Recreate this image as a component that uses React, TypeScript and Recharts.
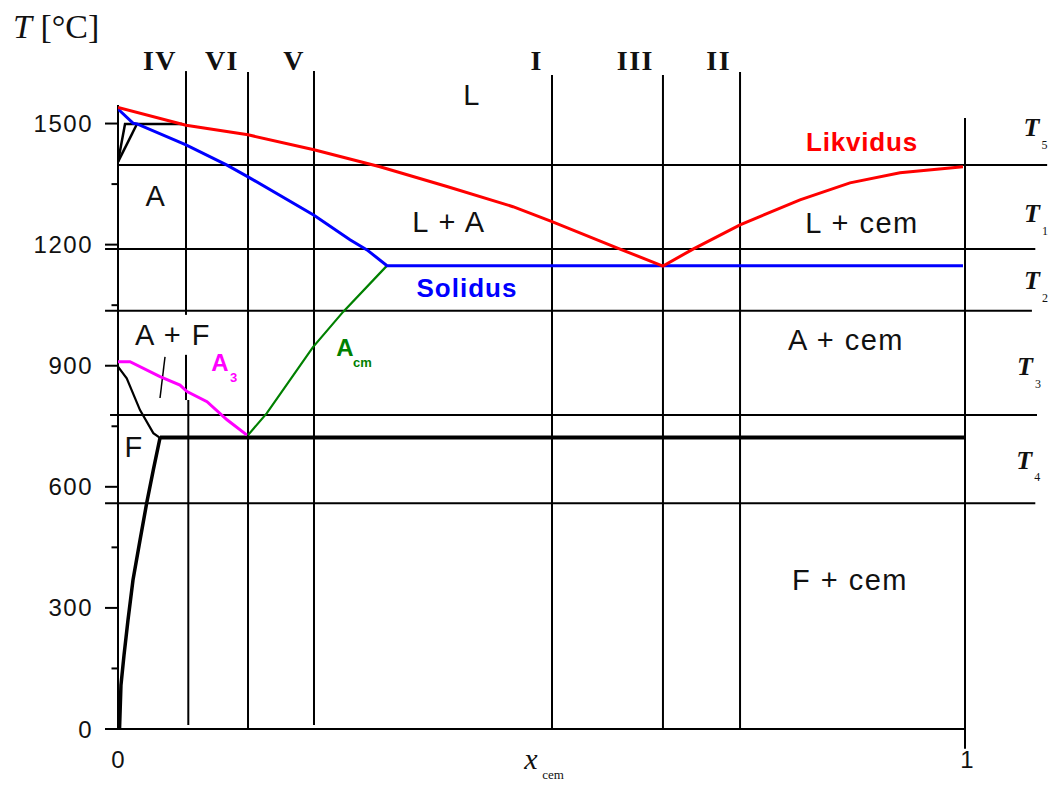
import React from "react";
import { ComposedChart, Line, XAxis, YAxis, ReferenceLine, ReferenceDot } from "recharts";

type Pt = { x: number; t: number };

// phase boundaries, x = fraction of cementite, t = temperature in °C
const liquidus: Pt[] = [
  { x: 0, t: 1540 }, { x: 0.0803, t: 1496 }, { x: 0.1535, t: 1472 }, { x: 0.2314, t: 1435 },
  { x: 0.3093, t: 1393 }, { x: 0.3884, t: 1344 }, { x: 0.4663, t: 1294 }, { x: 0.5124, t: 1257 },
  { x: 0.5927, t: 1189 }, { x: 0.6434, t: 1147 }, { x: 0.6789, t: 1189 }, { x: 0.7344, t: 1249 },
  { x: 0.8052, t: 1311 }, { x: 0.8642, t: 1353 }, { x: 0.9233, t: 1378 }, { x: 0.9976, t: 1393 },
];
const solidus: Pt[] = [
  { x: 0, t: 1536 }, { x: 0.0177, t: 1501 }, { x: 0.0224, t: 1499 }, { x: 0.0803, t: 1447 },
  { x: 0.1287, t: 1397 }, { x: 0.1535, t: 1368 }, { x: 0.2314, t: 1273 }, { x: 0.2739, t: 1212 },
  { x: 0.294, t: 1187 }, { x: 0.3176, t: 1148 }, { x: 0.9976, t: 1148 },
];
const a3Line: Pt[] = [
  { x: 0, t: 910 }, { x: 0.0142, t: 910 }, { x: 0.0496, t: 873 }, { x: 0.0732, t: 852 },
  { x: 0.0815, t: 836 }, { x: 0.1051, t: 811 }, { x: 0.1287, t: 766 }, { x: 0.1523, t: 728 },
];
const acmLine: Pt[] = [
  { x: 0.1535, t: 728 }, { x: 0.1755, t: 782 }, { x: 0.2302, t: 946 }, { x: 0.266, t: 1034 },
  { x: 0.3176, t: 1148 },
];
const ferriteUpper: Pt[] = [
  { x: 0, t: 898 }, { x: 0.0103, t: 869 }, { x: 0.026, t: 790 }, { x: 0.0417, t: 733 },
  { x: 0.0496, t: 721 },
];
const ferriteLower: Pt[] = [
  { x: 0.0496, t: 721 }, { x: 0.0417, t: 642 }, { x: 0.0339, t: 560 }, { x: 0.026, t: 468 },
  { x: 0.0177, t: 369 }, { x: 0.0118, t: 270 }, { x: 0.0071, t: 183 }, { x: 0.0035, t: 109 },
  { x: 0.0018, t: 0 },
];
const eutectoid: Pt[] = [{ x: 0.0496, t: 722 }, { x: 1, t: 722 }];
const peritecticA: Pt[] = [{ x: 0, t: 1405 }, { x: 0.0083, t: 1499 }, { x: 0.0756, t: 1499 }];
const peritecticB: Pt[] = [{ x: 0, t: 1405 }, { x: 0.0224, t: 1499 }];

const yTicks = [0, 150, 300, 450, 600, 750, 900, 1050, 1200, 1350, 1500];
const xTicks = [0, 1];

// composition sections
const sectionNames = ["IV", "VI", "V", "I", "III", "II"];
const sectionX = [0.0803, 0.1535, 0.2314, 0.5124, 0.6434, 0.7344];
const verticalSegs = [
  { x: 0.0803, from: 1630, to: 1026 },
  { x: 0.0803, from: 927, to: 815 },
  { x: 0.083, from: 815, to: 10 },
  { x: 0.1535, from: 1628, to: 0 },
  { x: 0.2314, from: 1630, to: 10 },
  { x: 0.5124, from: 1620, to: 0 },
  { x: 0.6434, from: 1620, to: 0 },
  { x: 0.7344, from: 1628, to: 0 },
  { x: 1, from: 1514, to: -49 },
];
const slashMark: Pt[] = [{ x: 0.0555, t: 922 }, { x: 0.0496, t: 820 }];

// temperature levels T5, T1..T4
const levelNames = ["5", "1", "2", "3", "4"];
const levelT = [1397, 1189, 1036, 778, 559];
const levelFrom = [0, -0.0153, -0.0153, -0.0094, -0.0153];
const levelTo = [1.097, 1.083, 1.079, 1.085, 1.083];
const levelLabelX = [1.0785, 1.0791, 1.0791, 1.0708, 1.07];
const levelLabelT = [1489, 1276, 1110, 897, 666];

const regionNames = ["L", "A", "L + A", "L + cem", "A + cem", "A + F", "F", "F + cem"];
const regionX = [0.418, 0.0449, 0.3908, 0.8784, 0.8595, 0.0649, 0.0189, 0.8642];
const regionT = [1571, 1320, 1256, 1254, 964, 976, 699, 369];

const SANS = "'Liberation Sans', Arial, sans-serif";
const SERIF = "'Liberation Serif', 'Times New Roman', serif";

function YTick(props: any) {
  const { x, y, payload } = props;
  const major = payload.value % 300 === 0;
  return (
    <g>
      <line x1={x + (major ? 12 : 18.5)} x2={x + 25} y1={y} y2={y} stroke="#000" strokeWidth={2} />
      {major && (
        <text x={x} y={y} textAnchor="end" dominantBaseline="central" fontFamily={SANS} fontSize={24}
          letterSpacing={1.5} fill="#111">
          {payload.value}
        </text>
      )}
    </g>
  );
}

function XTick(props: any) {
  const { x, y, payload } = props;
  return (
    <text x={x + (payload.value === 1 ? 2 : 0)} y={y + 22} textAnchor="middle" dominantBaseline="central"
      fontFamily={SANS} fontSize={24} fill="#111">
      {payload.value}
    </text>
  );
}

export default function App() {
  return (
    <div style={{ position: "absolute", left: 0, top: 0, background: "#fff" }}>
      <ComposedChart width={1050} height={787} margin={{ top: 63, right: 85, bottom: 28, left: 58 }}>
        <XAxis type="number" dataKey="x" domain={[0, 1]} ticks={xTicks} allowDataOverflow
          axisLine={{ stroke: "#000", strokeWidth: 2 }} tickLine={false} tick={<XTick />} />
        <YAxis type="number" domain={[0, 1650]} ticks={yTicks} allowDataOverflow width={60}
          axisLine={false} tickLine={false} tickMargin={19} tick={<YTick />} interval={0} />

        {/* y axis line */}
        <ReferenceLine ifOverflow="visible" stroke="#000" strokeWidth={2}
          segment={[{ x: 0, y: 0 }, { x: 0, y: 1546 }]} />

        {verticalSegs.map((s, i) => (
          <ReferenceLine key={"v" + i} ifOverflow="visible" stroke="#000" strokeWidth={2}
            segment={[{ x: s.x, y: s.from }, { x: s.x, y: s.to }]} />
        ))}
        <ReferenceLine ifOverflow="visible" stroke="#000" strokeWidth={1.5}
          segment={[{ x: slashMark[0].x, y: slashMark[0].t }, { x: slashMark[1].x, y: slashMark[1].t }]} />

        {levelT.map((t, i) => (
          <ReferenceLine key={"h" + i} ifOverflow="visible" stroke="#000" strokeWidth={2}
            segment={[{ x: levelFrom[i], y: t }, { x: levelTo[i], y: t }]} />
        ))}

        <Line data={ferriteUpper} dataKey="t" stroke="#000" strokeWidth={2.2} dot={false} isAnimationActive={false} />
        <Line data={ferriteLower} dataKey="t" stroke="#000" strokeWidth={3.5} dot={false} isAnimationActive={false} />
        <Line data={eutectoid} dataKey="t" stroke="#000" strokeWidth={4} dot={false} isAnimationActive={false} />
        <Line data={peritecticA} dataKey="t" stroke="#000" strokeWidth={2.5} dot={false} isAnimationActive={false} />
        <Line data={peritecticB} dataKey="t" stroke="#000" strokeWidth={2.5} dot={false} isAnimationActive={false} />
        <Line data={a3Line} dataKey="t" stroke="#ff00ff" strokeWidth={3} dot={false} isAnimationActive={false} />
        <Line data={acmLine} dataKey="t" stroke="#008000" strokeWidth={2.2} dot={false} isAnimationActive={false} />
        <Line data={solidus} dataKey="t" stroke="#0000ff" strokeWidth={3} dot={false} isAnimationActive={false} />
        <Line data={liquidus} dataKey="t" stroke="#ff0000" strokeWidth={3} dot={false} isAnimationActive={false} />

        {/* section numerals */}
        {sectionNames.map((name, i) => (
          <ReferenceDot key={name} x={sectionX[i]} y={1657} ifOverflow="visible"
            shape={(p: any) => (
              <text x={p.cx - 9} y={p.cy} textAnchor="end" dominantBaseline="central" fontFamily={SERIF}
                fontWeight="bold" fontSize={28} letterSpacing={1.5} fill="#111">
                {name}
              </text>
            )} />
        ))}

        {/* region labels */}
        {regionNames.map((name, i) => (
          <ReferenceDot key={name} x={regionX[i]} y={regionT[i]} ifOverflow="visible"
            shape={(p: any) => (
              <text x={p.cx} y={p.cy} textAnchor="middle" dominantBaseline="central" fontFamily={SANS}
                fontSize={29} letterSpacing={1.5} fill="#111">
                {name}
              </text>
            )} />
        ))}

        <ReferenceDot x={0.8784} y={1454} ifOverflow="visible"
          shape={(p: any) => (
            <text x={p.cx} y={p.cy} textAnchor="middle" dominantBaseline="central" fontFamily={SANS}
              fontWeight="bold" fontSize={26} letterSpacing={0.8} fill="#ff0000">Likvidus</text>
          )} />
        <ReferenceDot x={0.412} y={1092} ifOverflow="visible"
          shape={(p: any) => (
            <text x={p.cx} y={p.cy} textAnchor="middle" dominantBaseline="central" fontFamily={SANS}
              fontWeight="bold" fontSize={26} letterSpacing={1} fill="#0000ff">Solidus</text>
          )} />
        <ReferenceDot x={0.1204} y={907} ifOverflow="visible"
          shape={(p: any) => (
            <g fontFamily={SANS} fontWeight="bold" fill="#ff00ff">
              <text x={p.cx} y={p.cy} textAnchor="middle" dominantBaseline="central" fontSize={24}>A</text>
              <text x={p.cx + 10} y={p.cy + 15} textAnchor="start" dominantBaseline="central" fontSize={13}>3</text>
            </g>
          )} />
        <ReferenceDot x={0.268} y={946} ifOverflow="visible"
          shape={(p: any) => (
            <g fontFamily={SANS} fontWeight="bold" fill="#008000">
              <text x={p.cx} y={p.cy} textAnchor="middle" dominantBaseline="central" fontSize={24}>A</text>
              <text x={p.cx + 8} y={p.cy + 15} textAnchor="start" dominantBaseline="central" fontSize={13}>cm</text>
            </g>
          )} />

        {/* level labels */}
        {levelNames.map((n, i) => (
          <ReferenceDot key={"T" + n} x={levelLabelX[i]} y={levelLabelT[i]} ifOverflow="visible"
            shape={(p: any) => (
              <g fontFamily={SERIF} fill="#111">
                <text x={p.cx} y={p.cy} textAnchor="middle" dominantBaseline="central" fontSize={26}
                  fontWeight="bold" fontStyle="italic">T</text>
                <text x={p.cx + 13} y={p.cy + 17} textAnchor="middle" dominantBaseline="central" fontSize={12}>{n}</text>
              </g>
            )} />
        ))}

        {/* axis titles */}
        <ReferenceDot x={-0.124} y={1742} ifOverflow="visible"
          shape={(p: any) => (
            <text x={p.cx} y={p.cy} textAnchor="start" dominantBaseline="central" fontFamily={SERIF}
              fontSize={34} fill="#111">
              <tspan fontStyle="italic">T</tspan>
              <tspan> [°C]</tspan>
            </text>
          )} />
        <ReferenceDot x={0.4876} y={-74} ifOverflow="visible"
          shape={(p: any) => (
            <g fontFamily={SERIF} fill="#111">
              <text x={p.cx} y={p.cy} textAnchor="middle" dominantBaseline="central" fontSize={30}
                fontStyle="italic">x</text>
              <text x={p.cx + 22} y={p.cy + 16} textAnchor="middle" dominantBaseline="central" fontSize={13}>cem</text>
            </g>
          )} />
      </ComposedChart>
    </div>
  );
}
